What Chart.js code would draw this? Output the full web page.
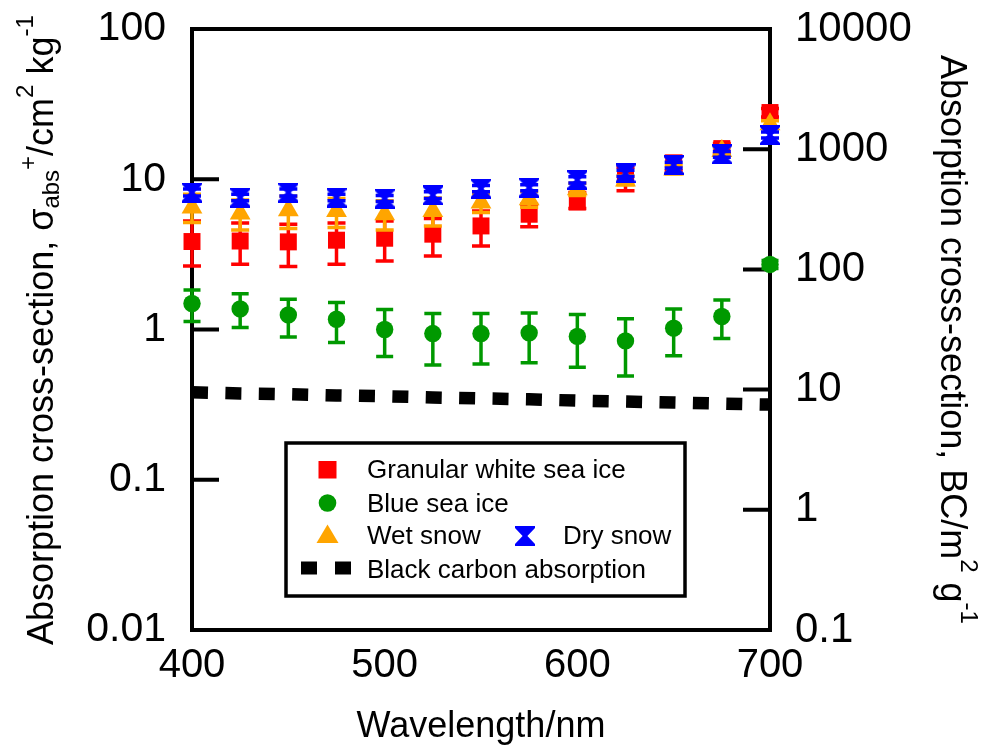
<!DOCTYPE html>
<html><head><meta charset="utf-8">
<script src="https://cdn.jsdelivr.net/npm/chart.js@4.4.1/dist/chart.umd.min.js"></script>
<style>html,body{margin:0;padding:0;background:#fff;}canvas{display:block;}</style>
</head><body>
<canvas id="c" width="991" height="751"></canvas>
<script>
// ---- data ----
const wavelengths = [400,425,450,475,500,525,550,575,600,625,650,675,700];
const granular     = [3.85,3.88,3.83,3.93,4.05,4.31,4.89,5.85,7.06,10.5,12.8,16.0,27.8];
const granularLow  = [2.65,2.72,2.63,2.72,2.86,3.09,3.60,4.82,6.38,8.4,11.4,14.8,26.0];
const granularHigh = [5.28,5.12,5.02,5.12,5.28,5.48,6.15,6.82,8.16,12.0,14.2,17.3,29.6];
const blueIce      = [1.49,1.37,1.25,1.17,1.00,0.94,0.94,0.95,0.90,0.84,1.02,1.22,2.71];
const blueIceLow   = [1.13,1.03,0.89,0.82,0.66,0.58,0.59,0.60,0.56,0.49,0.67,0.87,2.55];
const blueIceHigh  = [1.83,1.73,1.59,1.51,1.36,1.28,1.28,1.29,1.26,1.18,1.37,1.57,2.88];
const wetSnow      = [6.48,5.91,6.22,6.15,5.85,6.15,7.00,7.36,8.58,9.8,11.6,15.4,23.2];
const wetSnowLow   = [5.15,4.60,4.70,4.77,4.60,4.89,6.00,6.50,7.80,9.2,10.9,14.5,22.0];
const wetSnowHigh  = [7.95,7.28,7.70,7.44,7.20,7.50,8.00,8.30,9.40,10.5,12.3,16.3,24.5];
const drySnow      = [8.16,7.55,8.16,7.55,7.44,7.83,8.67,8.80,9.90,10.96,12.45,14.66,19.7];
const drySnowLow   = [7.75,7.20,7.75,7.20,7.10,7.45,8.25,8.40,9.45,10.45,11.9,14.0,18.8];
const drySnowHigh  = [8.60,7.95,8.60,7.95,7.80,8.25,9.10,9.20,10.4,11.5,13.0,15.3,20.6];
const blackCarbon  = [9.5,9.3,9.15,8.95,8.8,8.6,8.45,8.3,8.1,7.95,7.8,7.65,7.5];
const xTicks = [400,500,600,700];
const yLeftTicks = [0.01,0.1,1,10,100];
const yRightTicks = [0.1,1,10,100,1000,10000];
const legendLabels = ['Granular white sea ice','Blue sea ice','Wet snow','Dry snow','Black carbon absorption'];
const xTitle = 'Wavelength/nm';

const FONT = '"Liberation Sans", Arial, sans-serif';
const RED='#ff0000', GREEN='#009900', ORANGE='#ffa500', BLUE='#0000ff';

function makeBowtie(color,w,h){
  const c=document.createElement('canvas'); c.width=w; c.height=h;
  const g=c.getContext('2d'); g.fillStyle=color; g.beginPath();
  g.moveTo(0,0); g.lineTo(w,0); g.lineTo(w,h*0.1); g.lineTo(w*0.62,h/2); g.lineTo(w,h*0.9);
  g.lineTo(w,h); g.lineTo(0,h); g.lineTo(0,h*0.9); g.lineTo(w*0.38,h/2); g.lineTo(0,h*0.1);
  g.closePath(); g.fill(); return c;
}
const bowtie = makeBowtie(BLUE,20,20);

function pts(ys){ return wavelengths.map((w,i)=>({x:w,y:ys[i]})); }

const errorBars = {
  id:'errorBars',
  beforeDatasetDraw(chart,args){
    const ds=chart.data.datasets[args.index];
    if(!ds.errLow) return;
    const ctx=chart.ctx, xs=chart.scales.x, ys=chart.scales[args.meta.yAxisID];
    ctx.save(); ctx.strokeStyle=ds.borderColor; ctx.lineWidth=3.5; ctx.lineCap='butt';
    wavelengths.forEach((w,i)=>{
      const x=xs.getPixelForValue(w), yl=ys.getPixelForValue(ds.errLow[i]), yh=ys.getPixelForValue(ds.errHigh[i]);
      const cw=ds.capHalf;
      ctx.beginPath();
      ctx.moveTo(x,yl); ctx.lineTo(x,yh);
      ctx.moveTo(x-cw,yl); ctx.lineTo(x+cw,yl);
      ctx.moveTo(x-cw,yh); ctx.lineTo(x+cw,yh);
      ctx.stroke();
    });
    ctx.restore();
  }
};

const frame = {
  id:'frame',
  beforeDatasetsDraw(chart){
    const ctx=chart.ctx, a=chart.chartArea;
    ctx.save(); ctx.strokeStyle='#000'; ctx.lineWidth=4;
    ctx.strokeRect(a.left,a.top,a.right-a.left,a.bottom-a.top);
    const yl=chart.scales.y, yr=chart.scales.y2;
    ctx.beginPath();
    yLeftTicks.forEach(v=>{const y=yl.getPixelForValue(v); ctx.moveTo(a.left,y); ctx.lineTo(a.left+27,y);});
    yRightTicks.forEach(v=>{const y=yr.getPixelForValue(v); ctx.moveTo(a.right,y); ctx.lineTo(a.right-27,y);});
    ctx.stroke();
    ctx.restore();
  }
};

function drawRich(ctx,segs,x,y,angle){
  ctx.save(); ctx.translate(x,y); ctx.rotate(angle);
  ctx.textBaseline='alphabetic'; ctx.textAlign='left'; ctx.fillStyle='#000';
  let cx=0;
  segs.forEach(s=>{ ctx.font=s.size+'px '+FONT; ctx.fillText(s.t,cx,s.dy||0); cx+=ctx.measureText(s.t).width; });
  ctx.restore();
}

const decorations = {
  id:'decorations',
  afterDraw(chart){
    const ctx=chart.ctx, a=chart.chartArea;
    drawRich(ctx,[
      {t:'Absorption cross-section, \u03c3',size:36},
      {t:'abs',size:24,dy:6},
      {t:'+',size:24,dy:-17},
      {t:'/cm',size:36},
      {t:'2',size:24,dy:-20},
      {t:' kg',size:36},
      {t:'-1',size:24,dy:-20}
    ],53,645,-Math.PI/2);
    drawRich(ctx,[
      {t:'Absorption cross-section, BC/m',size:36},
      {t:'2',size:24,dy:-20},
      {t:' g',size:36},
      {t:'-1',size:24,dy:-20}
    ],941,55,Math.PI/2);
    ctx.save();
    ctx.font='36px '+FONT; ctx.fillStyle='#000'; ctx.textAlign='center'; ctx.textBaseline='alphabetic';
    ctx.fillText(xTitle,(a.left+a.right)/2,737);
    ctx.restore();

    // legend
    ctx.save();
    ctx.fillStyle='#fff'; ctx.fillRect(286,443,399,153);
    ctx.strokeStyle='#000'; ctx.lineWidth=3.5; ctx.strokeRect(286,443,399,153);
    ctx.fillStyle=RED; ctx.fillRect(318.5,461,18,17.5);
    ctx.fillStyle=GREEN; ctx.beginPath(); ctx.arc(327.5,503,8.8,0,Math.PI*2); ctx.fill();
    ctx.fillStyle=ORANGE; ctx.beginPath(); ctx.moveTo(327.5,524.5); ctx.lineTo(338.5,543); ctx.lineTo(316.5,543); ctx.closePath(); ctx.fill();
    ctx.drawImage(bowtie,515,526);
    ctx.fillStyle='#000'; ctx.fillRect(301,561.5,16,13); ctx.fillRect(335,561.5,16,13);
    ctx.font='26px '+FONT; ctx.fillStyle='#000'; ctx.textAlign='left'; ctx.textBaseline='alphabetic';
    ctx.fillText(legendLabels[0],367,478);
    ctx.fillText(legendLabels[1],367,511.5);
    ctx.fillText(legendLabels[2],367,544);
    ctx.fillText(legendLabels[3],563,544);
    ctx.fillText(legendLabels[4],367,577.5);
    ctx.restore();
  }
};

function noPad(s){ s.paddingTop=0; s.paddingBottom=0; s.paddingLeft=0; s.paddingRight=0; }

const common = {type:'line', showLine:false, clip:false};
new Chart(document.getElementById('c'),{
  type:'line',
  data:{datasets:[
    {...common,label:legendLabels[4],data:pts(blackCarbon),yAxisID:'y2',showLine:true,borderColor:'#000',borderWidth:12.5,
      borderDash:[16,17.4],borderCapStyle:'butt',pointRadius:0,order:0,tension:0},
    {...common,label:legendLabels[3],data:pts(drySnow),yAxisID:'y',borderColor:BLUE,backgroundColor:BLUE,
      pointStyle:bowtie,pointRadius:10,errLow:drySnowLow,errHigh:drySnowHigh,capHalf:9,order:1},
    {...common,label:legendLabels[2],data:pts(wetSnow),yAxisID:'y',borderColor:ORANGE,backgroundColor:ORANGE,
      pointStyle:'triangle',pointRadius:12,pointBorderWidth:0,errLow:wetSnowLow,errHigh:wetSnowHigh,capHalf:9,order:2},
    {...common,label:legendLabels[0],data:pts(granular),yAxisID:'y',borderColor:RED,backgroundColor:RED,
      pointStyle:'rect',pointRadius:12,pointBorderWidth:0,errLow:granularLow,errHigh:granularHigh,capHalf:9,order:3},
    {...common,label:legendLabels[1],data:pts(blueIce),yAxisID:'y',borderColor:GREEN,backgroundColor:GREEN,
      pointStyle:'circle',pointRadius:8.7,pointBorderWidth:0,errLow:blueIceLow,errHigh:blueIceHigh,capHalf:8.5,order:4}
  ]},
  options:{
    responsive:false, animation:false,
    layout:{padding:{left:0,right:0,top:29,bottom:0}},
    plugins:{legend:{display:false},tooltip:{enabled:false}},
    events:[],
    scales:{
      x:{type:'linear',min:400,max:700,position:'bottom',
        afterBuildTicks(s){s.ticks=xTicks.map(v=>({value:v}));},
        afterFit(s){s.height=121; noPad(s);},
        grid:{display:false,drawTicks:false},border:{display:false},
        ticks:{font:{family:FONT,size:40},color:'#000',padding:12,maxRotation:0,callback:v=>String(v)}},
      y:{type:'logarithmic',min:0.01,max:100,position:'left',
        afterBuildTicks(s){s.ticks=yLeftTicks.map(v=>({value:v}));},
        afterFit(s){s.width=192; noPad(s);},
        grid:{display:false,drawTicks:false},border:{display:false},
        ticks:{font:{family:FONT,size:41},color:'#000',padding:26,callback:v=>String(v)}},
      y2:{type:'logarithmic',min:0.1,max:10000,position:'right',
        afterBuildTicks(s){s.ticks=yRightTicks.map(v=>({value:v}));},
        afterFit(s){s.width=221; noPad(s);},
        grid:{display:false,drawTicks:false},border:{display:false},
        ticks:{font:{family:FONT,size:42},color:'#000',padding:25,callback:v=>String(v)}}
    }
  },
  plugins:[frame,errorBars,decorations]
});
</script>
</body></html>
